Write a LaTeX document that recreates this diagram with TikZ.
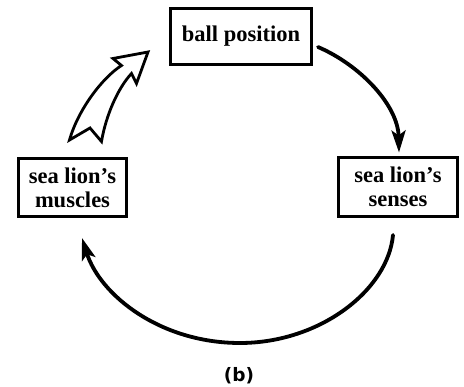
\documentclass[tikz,border=0pt]{standalone}
\usepackage{fontspec}
\setmainfont{Liberation Serif}
\setsansfont{DejaVu Sans}
\usetikzlibrary{arrows.meta}

\begin{document}
\begin{tikzpicture}[x=1pt,y=-1pt,
  box/.style={draw, line width=2.8pt, font=\bfseries\fontsize{22.5}{24}\selectfont,
              align=center, inner sep=0pt},
  flow/.style={line width=3.8pt, line cap=round,
               -{Stealth[length=22pt,width=14pt,inset=5pt]}},
  hollow/.style={draw, line width=2.8pt, line join=miter, fill=white}
]
\path[use as bounding box] (0,0) rectangle (464,387);

% the three stages of the loop
\node[box, minimum width=141.2pt, minimum height=56.2pt] (ball) at (241,36.5) {ball position};
\node[box, minimum width=108.2pt, minimum height=58.2pt] (muscles) at (72.5,187.5) {sea lion’s\\muscles};
\node[box, minimum width=119.2pt, minimum height=59.2pt] (senses) at (398,187) {sea lion’s\\senses};

% end points of the curved connectors
\coordinate (a1) at ([shift={(5,10.5)}]ball.east);
\coordinate (a2) at ([shift={(1,-3.5)}]senses.north);
\coordinate (b1) at ([shift={(-5,17)}]senses.south);
\coordinate (b2) at ([shift={(9.5,20)}]muscles.south);

\draw[flow] (a1) .. controls (360,65) and (398,105) .. (a2);
\draw[flow] (b1) .. controls (388,290) and (320,343) .. (240,343)
               .. controls (160,343) and (100,295) .. (b2);

% hollow arrow from muscles back to the ball
\draw[hollow] (148,52) -- (113,58.5) -- (121.5,65.5)
  .. controls (102,78) and (78,110) .. (69.5,140)
  -- (90,128) -- (101.5,141.5)
  .. controls (106,115) and (118,88) .. (131.5,73.5)
  -- (136.5,83.5) -- cycle;

\node[font=\sffamily\bfseries\fontsize{18.5}{22}\selectfont] (lbl) at (239,375.5) {(b)};
\end{tikzpicture}
\end{document}
